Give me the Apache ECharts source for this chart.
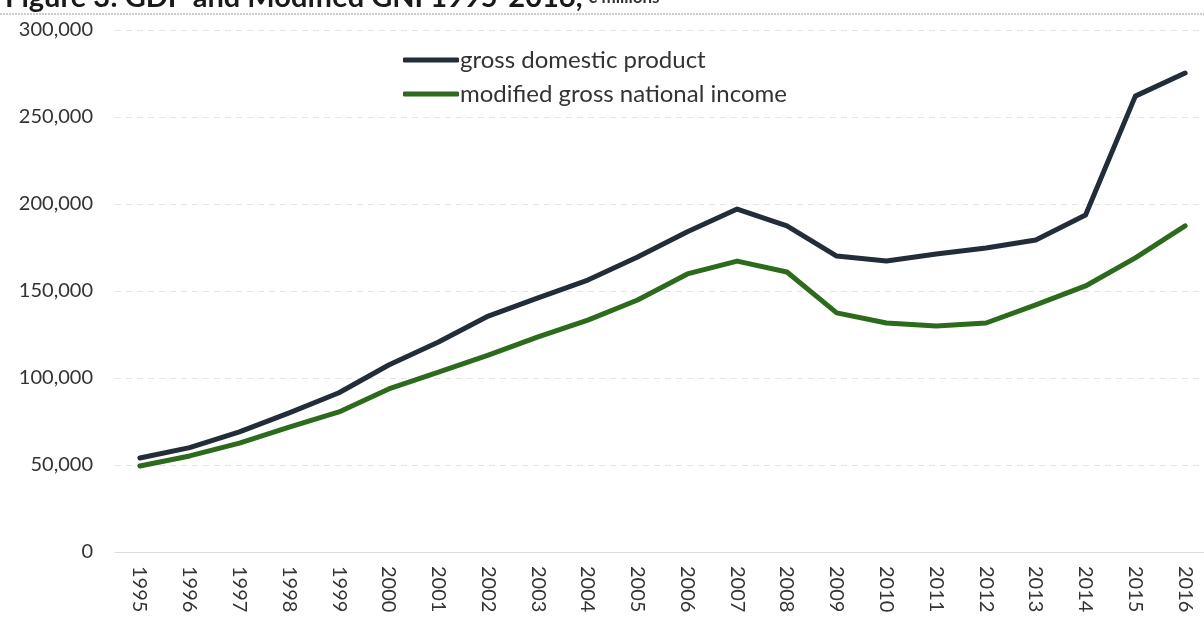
<!DOCTYPE html>
<html>
<head>
<meta charset="utf-8">
<script src="https://cdn.jsdelivr.net/npm/echarts@6/dist/echarts.min.js"></script>
<style>
  html, body { margin: 0; padding: 0; background: #fff; }
  #chart { width: 1204px; height: 619px; }
</style>
</head>
<body>
<div id="chart"></div>
<script>
// years on the x axis
const years = ['1995', '1996', '1997', '1998', '1999', '2000', '2001', '2002', '2003', '2004', '2005',
  '2006', '2007', '2008', '2009', '2010', '2011', '2012', '2013', '2014', '2015', '2016'];

// € millions
const gdp = [54000, 60000, 69000, 80000, 91500, 107500, 120700, 135600, 146000, 156300, 169500,
  184000, 197100, 187400, 170100, 167200, 171300, 174700, 179300, 193700, 262000, 275300];
const gniStar = [49400, 55200, 62600, 71800, 80500, 93700, 103400, 113200, 123600, 133300, 144800,
  159800, 167200, 160900, 137400, 131600, 129900, 131600, 142000, 152900, 169000, 187400];

const seriesNames = ['gross domestic product', 'modified gross national income'];

const font = 'Lato, "Open Sans", sans-serif';
const chart = echarts.init(document.getElementById('chart'));

const options = {
  animation: false,
  backgroundColor: '#fff',
  title: {
    left: 0,
    top: -22,
    text: '{b|Figure 3: GDP and Modified GNI 1995-2016,} {s|€ millions}',
    textStyle: {
      rich: {
        b: { fontFamily: font, fontSize: 29, fontWeight: 'bold', color: '#1a1a1a' },
        s: { fontFamily: font, fontSize: 17, color: '#333' },
      },
    },
  },
  graphic: [
    {
      type: 'line',
      shape: { x1: 0, y1: 14, x2: 1204, y2: 14 },
      style: { stroke: '#999', lineWidth: 1, lineDash: [2, 1] },
    },
  ],
  legend: {
    data: seriesNames,
    orient: 'vertical',
    left: 398,
    top: 43,
    itemGap: 10,
    itemWidth: 56,
    itemHeight: 5,
    icon: 'roundRect',
    textStyle: { fontFamily: font, fontSize: 24, color: '#333', padding: [0, 0, 0, -4] },
  },
  grid: {
    left: 115,
    width: 1095,
    top: 30,
    bottom: 67,
    outerBoundsMode: 'none',
  },
  xAxis: {
    type: 'category',
    data: years,
    boundaryGap: true,
    axisLine: { show: true, lineStyle: { color: '#ddd' } },
    axisTick: { show: false },
    axisLabel: {
      rotate: -90,
      margin: 14,
      fontFamily: font,
      fontSize: 20,
      color: '#333',
    },
  },
  yAxis: {
    type: 'value',
    min: 0,
    max: 300000,
    interval: 50000,
    axisLine: { show: false },
    axisTick: { show: false },
    axisLabel: {
      margin: 22,
      fontFamily: font,
      fontSize: 20,
      color: '#333',
      formatter: (v) => v.toLocaleString('en-US'),
    },
    splitLine: { lineStyle: { color: '#e4e4e4', type: [6, 5] } },
  },
  series: [
    {
      name: seriesNames[0],
      type: 'line',
      data: gdp,
      symbol: 'none',
      color: '#232d3a',
      lineStyle: { width: 5, color: '#232d3a', cap: 'round', join: 'round' },
    },
    {
      name: seriesNames[1],
      type: 'line',
      data: gniStar,
      symbol: 'none',
      color: '#2c6a1c',
      lineStyle: { width: 5, color: '#2c6a1c', cap: 'round', join: 'round' },
    },
  ],
};

chart.setOption(options);
</script>
</body>
</html>
